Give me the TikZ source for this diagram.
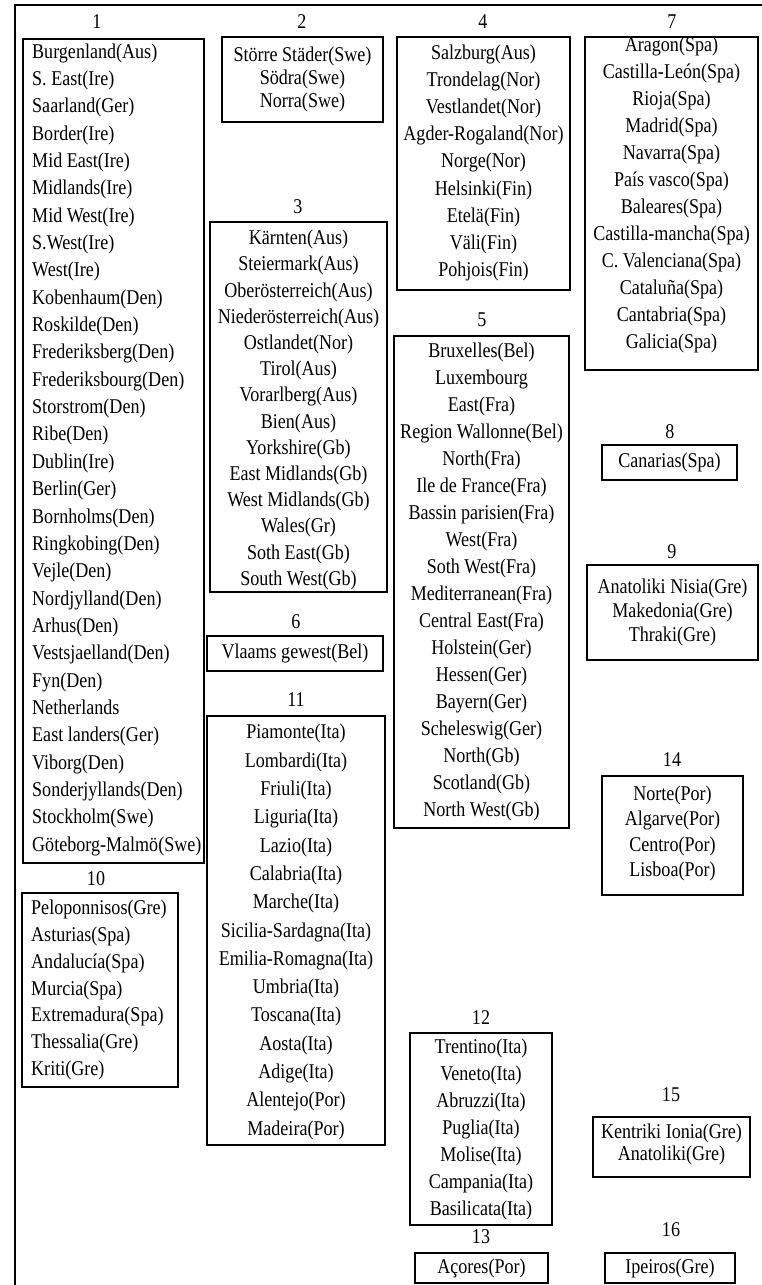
\documentclass[tikz,border=0pt]{standalone}
\usepackage{fontspec}
\setmainfont{Liberation Serif}[FakeStretch=0.86]
\newcommand\lsz[1]{\fontsize{21}{#1}\selectfont}
\tikzset{
  grp/.style={draw, line width=1.3pt, inner sep=0pt},
  lst/.style={inner sep=0pt, align=center},
  lstl/.style={inner sep=0pt, align=left, anchor=west},
  ttl/.style={inner sep=0pt, font=\lsz{24}},
}
\begin{document}
\begin{tikzpicture}[x=1pt,y=-1pt]
\useasboundingbox (0,0) rectangle (762,1285);
\coordinate (fbl) at (15,1285);
\coordinate (ftl) at (15,5);
\coordinate (ftr) at (762,5);
\draw[line width=1.5pt] (fbl) -- (ftl) -- (ftr);

% ---------- column 1
\node[ttl] (t1) at (97,22) {1};
\node[grp, minimum width=181pt, minimum height=824pt] (b1) at (113.5,451) {};
\node[lstl, font=\lsz{27.35}] (l1) at (32,449.6) {Burgenland(Aus)\\S. East(Ire)\\Saarland(Ger)\\Border(Ire)\\Mid East(Ire)\\Midlands(Ire)\\Mid West(Ire)\\S.West(Ire)\\West(Ire)\\Kobenhaum(Den)\\Roskilde(Den)\\Frederiksberg(Den)\\Frederiksbourg(Den)\\Storstrom(Den)\\Ribe(Den)\\Dublin(Ire)\\Berlin(Ger)\\Bornholms(Den)\\Ringkobing(Den)\\Vejle(Den)\\Nordjylland(Den)\\Arhus(Den)\\Vestsjaelland(Den)\\Fyn(Den)\\Netherlands\\East landers(Ger)\\Viborg(Den)\\Sonderjyllands(Den)\\Stockholm(Swe)\\Göteborg-Malmö(Swe)};
\node[ttl] (t10) at (96,879) {10};
\node[grp, minimum width=156pt, minimum height=194pt] (b10) at (100,990) {};
\node[lstl, font=\lsz{26.7}] (l10) at (31,990) {Peloponnisos(Gre)\\Asturias(Spa)\\Andalucía(Spa)\\Murcia(Spa)\\Extremadura(Spa)\\Thessalia(Gre)\\Kriti(Gre)};

% ---------- column 2
\node[ttl] (t2) at (302,22) {2};
\node[grp, minimum width=161pt, minimum height=85pt] (b2) at (302.5,79.5) {};
\node[lst, font=\lsz{23}] (l2) at (302.5,79) {Större Städer(Swe)\\Södra(Swe)\\Norra(Swe)};
\node[ttl] (t3) at (298,207) {3};
\node[grp, minimum width=177pt, minimum height=370pt] (b3) at (298.5,407) {};
\node[lst, font=\lsz{26.2}] (l3) at (298.5,410) {Kärnten(Aus)\\Steiermark(Aus)\\Oberösterreich(Aus)\\Niederösterreich(Aus)\\Ostlandet(Nor)\\Tirol(Aus)\\Vorarlberg(Aus)\\Bien(Aus)\\Yorkshire(Gb)\\East Midlands(Gb)\\West Midlands(Gb)\\Wales(Gr)\\Soth East(Gb)\\South West(Gb)};
\node[ttl] (t6) at (296,622) {6};
\node[grp, minimum width=176pt, minimum height=35pt] (b6) at (295,653.5) {};
\node[lst, font=\lsz{24}] (l6) at (295,653.5) {Vlaams gewest(Bel)};
\node[ttl] (t11) at (296,700) {11};
\node[grp, minimum width=178pt, minimum height=429pt] (b11) at (296,930.5) {};
\node[lst, font=\lsz{28.3}] (l11) at (296,932) {Piamonte(Ita)\\Lombardi(Ita)\\Friuli(Ita)\\Liguria(Ita)\\Lazio(Ita)\\Calabria(Ita)\\Marche(Ita)\\Sicilia-Sardagna(Ita)\\Emilia-Romagna(Ita)\\Umbria(Ita)\\Toscana(Ita)\\Aosta(Ita)\\Adige(Ita)\\Alentejo(Por)\\Madeira(Por)};

% ---------- column 3
\node[ttl] (t4) at (483,22) {4};
\node[grp, minimum width=173pt, minimum height=253pt] (b4) at (483.5,163.5) {};
\node[lst, font=\lsz{27.2}] (l4) at (483.5,162.8) {Salzburg(Aus)\\Trondelag(Nor)\\Vestlandet(Nor)\\Agder-Rogaland(Nor)\\Norge(Nor)\\Helsinki(Fin)\\Etelä(Fin)\\Väli(Fin)\\Pohjois(Fin)};
\node[ttl] (t5) at (482,320) {5};
\node[grp, minimum width=175pt, minimum height=492pt] (b5) at (481.5,582) {};
\node[lst, font=\lsz{27}] (l5) at (481.5,581.5) {Bruxelles(Bel)\\Luxembourg\\East(Fra)\\Region Wallonne(Bel)\\North(Fra)\\Ile de France(Fra)\\Bassin parisien(Fra)\\West(Fra)\\Soth West(Fra)\\Mediterranean(Fra)\\Central East(Fra)\\Holstein(Ger)\\Hessen(Ger)\\Bayern(Ger)\\Scheleswig(Ger)\\North(Gb)\\Scotland(Gb)\\North West(Gb)};
\node[ttl] (t12) at (481,1018) {12};
\node[grp, minimum width=142pt, minimum height=192pt] (b12) at (481,1129) {};
\node[lst, font=\lsz{27}] (l12) at (481,1129) {Trentino(Ita)\\Veneto(Ita)\\Abruzzi(Ita)\\Puglia(Ita)\\Molise(Ita)\\Campania(Ita)\\Basilicata(Ita)};
\node[ttl] (t13) at (481,1237) {13};
\node[grp, minimum width=133pt, minimum height=30pt] (b13) at (481.5,1268) {};
\node[lst, font=\lsz{24}] (l13) at (481.5,1268) {Açores(Por)};

% ---------- column 4
\node[ttl] (t7) at (672,22) {7};
\node[grp, minimum width=173pt, minimum height=333pt] (b7) at (671.5,203.5) {};
\node[lst, font=\lsz{27}] (l7) at (671.5,194.5) {Aragon(Spa)\\Castilla-León(Spa)\\Rioja(Spa)\\Madrid(Spa)\\Navarra(Spa)\\País vasco(Spa)\\Baleares(Spa)\\Castilla-mancha(Spa)\\C. Valenciana(Spa)\\Cataluña(Spa)\\Cantabria(Spa)\\Galicia(Spa)};
\node[ttl] (t8) at (670,432) {8};
\node[grp, minimum width=135pt, minimum height=35pt] (b8) at (669.5,462.5) {};
\node[lst, font=\lsz{24}] (l8) at (669.5,462.5) {Canarias(Spa)};
\node[ttl] (t9) at (672,552) {9};
\node[grp, minimum width=171pt, minimum height=95pt] (b9) at (672.5,612.5) {};
\node[lst, font=\lsz{24}] (l9) at (672.5,612) {Anatoliki Nisia(Gre)\\Makedonia(Gre)\\Thraki(Gre)};
\node[ttl] (t14) at (672,760) {14};
\node[grp, minimum width=141pt, minimum height=119pt] (b14) at (672.5,835.5) {};
\node[lst, font=\lsz{25.5}] (l14) at (672.5,833.3) {Norte(Por)\\Algarve(Por)\\Centro(Por)\\Lisboa(Por)};
\node[ttl] (t15) at (671,1095) {15};
\node[grp, minimum width=157pt, minimum height=60pt] (b15) at (671.5,1147) {};
\node[lst, font=\lsz{22}] (l15) at (671.5,1144) {Kentriki Ionia(Gre)\\Anatoliki(Gre)};
\node[ttl] (t16) at (671,1230) {16};
\node[grp, minimum width=130pt, minimum height=30pt] (b16) at (670,1268) {};
\node[lst, font=\lsz{24}] (l16) at (670,1268) {Ipeiros(Gre)};
\end{tikzpicture}
\end{document}
